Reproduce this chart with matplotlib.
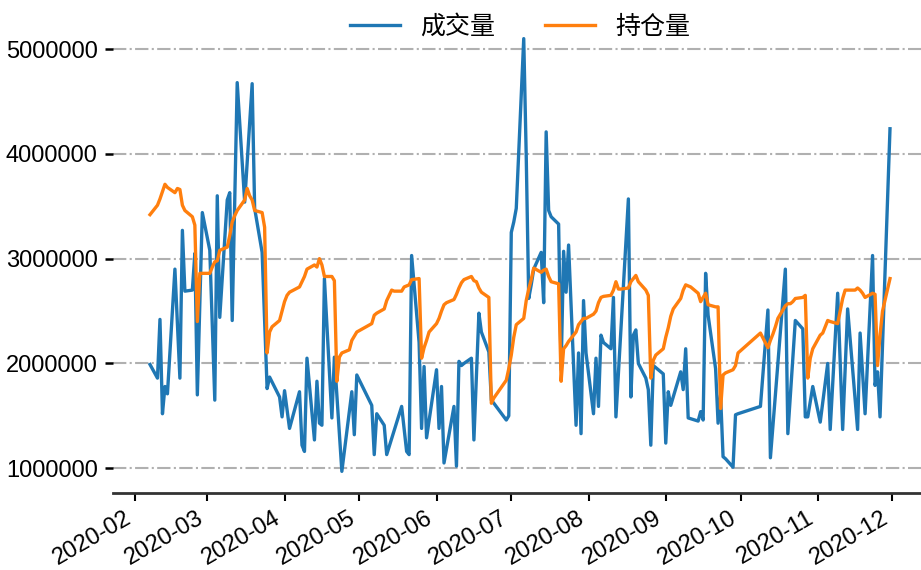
import matplotlib
matplotlib.use("Agg")
import matplotlib.pyplot as plt
import matplotlib.dates as mdates
import matplotlib.ticker as mticker
import pandas as pd

plt.rcParams['font.family'] = ['Liberation Sans', 'Noto Sans CJK SC', 'DejaVu Sans']

series_names = ["成交量", "持仓量"]

vol_dates = [
    "2020-02-07", "2020-02-10", "2020-02-11", "2020-02-12", "2020-02-13", "2020-02-14", "2020-02-17",
    "2020-02-19", "2020-02-20", "2020-02-21", "2020-02-24", "2020-02-25", "2020-02-26", "2020-02-28",
    "2020-03-02", "2020-03-04", "2020-03-05", "2020-03-06", "2020-03-09", "2020-03-10", "2020-03-11",
    "2020-03-13", "2020-03-16", "2020-03-19", "2020-03-20", "2020-03-23", "2020-03-25", "2020-03-26",
    "2020-03-30", "2020-03-31",
    "2020-04-01", "2020-04-03", "2020-04-07", "2020-04-08", "2020-04-09", "2020-04-10", "2020-04-13",
    "2020-04-14", "2020-04-15", "2020-04-16", "2020-04-17", "2020-04-20", "2020-04-21", "2020-04-24",
    "2020-04-28", "2020-04-29", "2020-04-30",
    "2020-05-06", "2020-05-07", "2020-05-08", "2020-05-11", "2020-05-12", "2020-05-18", "2020-05-20",
    "2020-05-21", "2020-05-22", "2020-05-25", "2020-05-26", "2020-05-27", "2020-05-28",
    "2020-06-01", "2020-06-02", "2020-06-03", "2020-06-04", "2020-06-08", "2020-06-09", "2020-06-10",
    "2020-06-11", "2020-06-12", "2020-06-15", "2020-06-16", "2020-06-18", "2020-06-19", "2020-06-22",
    "2020-06-23", "2020-06-24", "2020-06-29", "2020-06-30",
    "2020-07-01", "2020-07-02", "2020-07-03", "2020-07-06", "2020-07-07", "2020-07-08", "2020-07-09",
    "2020-07-10", "2020-07-13", "2020-07-14", "2020-07-15", "2020-07-16", "2020-07-17", "2020-07-20",
    "2020-07-21", "2020-07-22", "2020-07-23", "2020-07-24", "2020-07-27", "2020-07-28", "2020-07-29",
    "2020-07-30", "2020-07-31",
    "2020-08-03", "2020-08-04", "2020-08-05", "2020-08-06", "2020-08-07", "2020-08-10", "2020-08-11",
    "2020-08-12", "2020-08-17", "2020-08-18", "2020-08-19", "2020-08-20", "2020-08-21", "2020-08-24",
    "2020-08-25", "2020-08-26", "2020-08-27", "2020-08-31",
    "2020-09-01", "2020-09-02", "2020-09-03", "2020-09-07", "2020-09-08", "2020-09-09", "2020-09-10",
    "2020-09-14", "2020-09-15", "2020-09-16", "2020-09-17", "2020-09-18", "2020-09-21", "2020-09-22",
    "2020-09-23", "2020-09-24", "2020-09-25", "2020-09-28", "2020-09-29", "2020-09-30",
    "2020-10-09", "2020-10-12", "2020-10-13", "2020-10-19", "2020-10-20", "2020-10-23", "2020-10-26",
    "2020-10-27", "2020-10-28", "2020-10-30",
    "2020-11-02", "2020-11-05", "2020-11-06", "2020-11-09", "2020-11-11", "2020-11-13", "2020-11-17",
    "2020-11-18", "2020-11-20", "2020-11-23", "2020-11-24", "2020-11-25", "2020-11-26", "2020-11-30",
]
vol_values = [
    1990000, 1860000, 2420000, 1520000, 1780000, 1710000, 2900000,
    1860000, 3270000, 2690000, 2700000, 3050000, 1700000, 3440000,
    3080000, 1650000, 3600000, 2440000, 3560000, 3630000, 2410000,
    4680000, 3540000, 4670000, 3480000, 3060000, 1760000, 1870000,
    1680000, 1490000,
    1740000, 1380000, 1730000, 1220000, 1160000, 2050000, 1270000,
    1830000, 1430000, 1410000, 2810000, 1480000, 2060000, 970000,
    1730000, 1320000, 1890000,
    1600000, 1130000, 1520000, 1410000, 1130000, 1590000, 1160000,
    1130000, 3030000, 2200000, 1380000, 1970000, 1290000,
    1940000, 1380000, 1780000, 1050000, 1590000, 1020000, 2020000,
    1980000, 2000000, 2050000, 1270000, 2480000, 2300000, 2110000,
    1650000, 1620000, 1460000, 1500000,
    3250000, 3350000, 3480000, 5100000, 3980000, 2620000, 2750000,
    2900000, 3060000, 2580000, 4210000, 3460000, 3400000, 3330000,
    1940000, 3070000, 2680000, 3130000, 1410000, 2100000, 1330000,
    2600000, 2100000,
    1520000, 2050000, 1590000, 2270000, 2200000, 2140000, 2630000,
    1490000, 3570000, 1680000, 2270000, 2320000, 2000000, 1860000,
    1750000, 1220000, 1980000, 1900000,
    1240000, 1730000, 1600000, 1920000, 1750000, 2140000, 1480000,
    1450000, 1540000, 1460000, 2860000, 2460000, 1950000, 1430000,
    1700000, 1110000, 1090000, 1010000, 1510000, 1520000,
    1590000, 2510000, 1100000, 2900000, 1330000, 2410000, 2330000,
    1490000, 1490000, 1780000,
    1440000, 2000000, 1370000, 2670000, 1370000, 2520000, 1370000,
    2290000, 1520000, 3030000, 1790000, 1920000, 1490000, 4240000,
]

oi_dates = [
    "2020-02-07", "2020-02-10", "2020-02-11", "2020-02-12", "2020-02-13", "2020-02-14", "2020-02-17",
    "2020-02-18", "2020-02-19", "2020-02-20", "2020-02-21", "2020-02-24", "2020-02-25", "2020-02-26",
    "2020-02-27", "2020-02-28",
    "2020-03-02", "2020-03-03", "2020-03-04", "2020-03-05", "2020-03-06", "2020-03-09", "2020-03-10",
    "2020-03-11", "2020-03-12", "2020-03-13", "2020-03-16", "2020-03-17", "2020-03-18", "2020-03-19",
    "2020-03-20", "2020-03-23", "2020-03-24", "2020-03-25", "2020-03-26", "2020-03-27", "2020-03-30",
    "2020-03-31",
    "2020-04-01", "2020-04-02", "2020-04-03", "2020-04-07", "2020-04-08", "2020-04-09", "2020-04-10",
    "2020-04-13", "2020-04-14", "2020-04-15", "2020-04-16", "2020-04-17", "2020-04-20", "2020-04-21",
    "2020-04-22", "2020-04-23", "2020-04-24", "2020-04-27", "2020-04-28", "2020-04-29", "2020-04-30",
    "2020-05-06", "2020-05-07", "2020-05-08", "2020-05-11", "2020-05-12", "2020-05-13", "2020-05-14",
    "2020-05-15", "2020-05-18", "2020-05-19", "2020-05-20", "2020-05-21", "2020-05-22", "2020-05-25",
    "2020-05-26", "2020-05-27", "2020-05-28", "2020-05-29",
    "2020-06-01", "2020-06-02", "2020-06-03", "2020-06-04", "2020-06-05", "2020-06-08", "2020-06-09",
    "2020-06-10", "2020-06-11", "2020-06-12", "2020-06-15", "2020-06-16", "2020-06-17", "2020-06-18",
    "2020-06-19", "2020-06-22", "2020-06-23", "2020-06-24", "2020-06-29", "2020-06-30",
    "2020-07-01", "2020-07-02", "2020-07-03", "2020-07-06", "2020-07-07", "2020-07-08", "2020-07-09",
    "2020-07-10", "2020-07-13", "2020-07-14", "2020-07-15", "2020-07-16", "2020-07-17", "2020-07-20",
    "2020-07-21", "2020-07-22", "2020-07-23", "2020-07-24", "2020-07-27", "2020-07-28", "2020-07-29",
    "2020-07-30", "2020-07-31",
    "2020-08-03", "2020-08-04", "2020-08-05", "2020-08-06", "2020-08-07", "2020-08-10", "2020-08-11",
    "2020-08-12", "2020-08-13", "2020-08-14", "2020-08-17", "2020-08-18", "2020-08-19", "2020-08-20",
    "2020-08-21", "2020-08-24", "2020-08-25", "2020-08-26", "2020-08-27", "2020-08-28", "2020-08-31",
    "2020-09-01", "2020-09-02", "2020-09-03", "2020-09-04", "2020-09-07", "2020-09-08", "2020-09-09",
    "2020-09-10", "2020-09-11", "2020-09-14", "2020-09-15", "2020-09-16", "2020-09-17", "2020-09-18",
    "2020-09-21", "2020-09-22", "2020-09-23", "2020-09-24", "2020-09-25", "2020-09-28", "2020-09-29",
    "2020-09-30",
    "2020-10-09", "2020-10-12", "2020-10-13", "2020-10-14", "2020-10-15", "2020-10-16", "2020-10-19",
    "2020-10-20", "2020-10-21", "2020-10-22", "2020-10-23", "2020-10-26", "2020-10-27", "2020-10-28",
    "2020-10-29", "2020-10-30",
    "2020-11-02", "2020-11-03", "2020-11-04", "2020-11-05", "2020-11-06", "2020-11-09", "2020-11-10",
    "2020-11-11", "2020-11-12", "2020-11-13", "2020-11-16", "2020-11-17", "2020-11-18", "2020-11-19",
    "2020-11-20", "2020-11-23", "2020-11-24", "2020-11-25", "2020-11-26", "2020-11-27", "2020-11-30",
]
oi_values = [
    3420000, 3510000, 3570000, 3640000, 3710000, 3680000, 3630000,
    3670000, 3660000, 3510000, 3460000, 3400000, 3320000, 2400000,
    2860000, 2860000,
    2860000, 2920000, 2970000, 2980000, 3080000, 3110000, 3220000,
    3350000, 3410000, 3460000, 3560000, 3670000, 3600000, 3560000,
    3460000, 3440000, 3300000, 2100000, 2300000, 2350000, 2410000,
    2500000,
    2590000, 2650000, 2680000, 2730000, 2780000, 2830000, 2900000,
    2940000, 2920000, 3000000, 2940000, 2830000, 2830000, 2790000,
    1830000, 2060000, 2100000, 2130000, 2220000, 2260000, 2300000,
    2380000, 2460000, 2480000, 2520000, 2600000, 2650000, 2700000,
    2690000, 2690000, 2730000, 2740000, 2750000, 2800000, 2810000,
    2050000, 2150000, 2220000, 2300000,
    2380000, 2430000, 2500000, 2560000, 2580000, 2610000, 2660000,
    2720000, 2770000, 2800000, 2830000, 2790000, 2780000, 2720000,
    2680000, 2630000, 1620000, 1670000, 1840000, 1950000,
    2080000, 2250000, 2370000, 2430000, 2600000, 2710000, 2800000,
    2910000, 2870000, 2890000, 2900000, 2830000, 2780000, 2760000,
    1830000, 2140000, 2170000, 2210000, 2300000, 2370000, 2400000,
    2430000, 2430000,
    2470000, 2500000, 2580000, 2630000, 2640000, 2650000, 2700000,
    2780000, 2710000, 2710000, 2720000, 2780000, 2810000, 2840000,
    2780000, 2700000, 2650000, 1860000, 2030000, 2080000, 2140000,
    2250000, 2340000, 2450000, 2520000, 2620000, 2700000, 2750000,
    2740000, 2730000, 2670000, 2590000, 2630000, 2670000, 2560000,
    2540000, 2540000, 1570000, 1890000, 1910000, 1940000, 1980000,
    2100000,
    2290000, 2150000, 2220000, 2280000, 2350000, 2430000, 2550000,
    2570000, 2570000, 2590000, 2620000, 2630000, 2650000, 1860000,
    2050000, 2140000,
    2270000, 2290000, 2350000, 2410000, 2400000, 2380000, 2500000,
    2620000, 2700000, 2700000, 2700000, 2720000, 2700000, 2670000,
    2630000, 2670000, 2660000, 1980000, 2270000, 2500000, 2810000,
]

y_ticks = [1000000, 2000000, 3000000, 4000000, 5000000]

fig = plt.figure(figsize=(9.21, 5.70), dpi=100)
ax = fig.add_axes([113 / 921, 77 / 570, 814 / 921, 476 / 570])

ax.plot(pd.to_datetime(vol_dates), vol_values, color="#1f77b4", lw=2.4, label=series_names[0])
ax.plot(pd.to_datetime(oi_dates), oi_values, color="#ff7f0e", lw=2.4, label=series_names[1])

ax.set_yticks(y_ticks)
ax.yaxis.set_major_formatter(mticker.StrMethodFormatter("{x:.0f}"))
ax.xaxis.set_major_locator(mdates.MonthLocator())
ax.xaxis.set_major_formatter(mdates.DateFormatter("%Y-%m"))

ax.grid(axis="y", linestyle="-.", color="#b0b0b0", linewidth=1.5)
ax.set_axisbelow(True)
for s in ["left", "top", "right"]:
    ax.spines[s].set_visible(False)
ax.spines["bottom"].set_linewidth(2.0)
ax.spines["bottom"].set_color("#333333")

ax.tick_params(axis="y", length=6, width=1.8, pad=5, labelsize=17, colors="black")
ax.tick_params(axis="x", length=6, width=1.5, pad=4, labelsize=17)
for lbl in ax.get_xticklabels():
    lbl.set_rotation(30)
    lbl.set_horizontalalignment("right")

leg = ax.legend(loc="center", bbox_to_anchor=(0.5, 1 - 10 / 476), ncol=2, frameon=False,
                prop={"family": ["Noto Sans CJK SC"], "size": 18})

fig.savefig("out.png", dpi=100)
